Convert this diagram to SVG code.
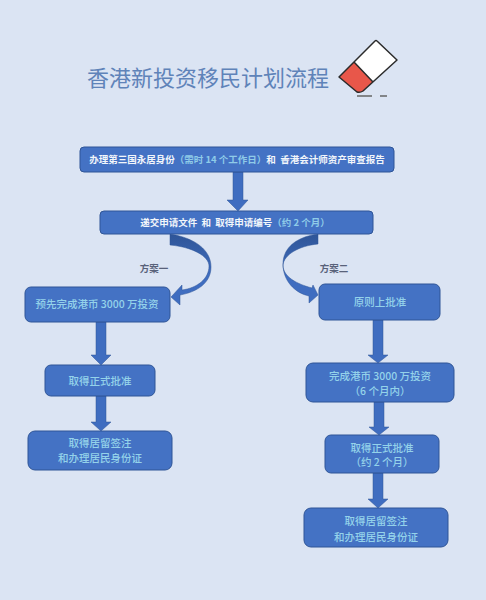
<svg xmlns="http://www.w3.org/2000/svg" width="486" height="600" viewBox="0 0 486 600">
<defs><style>
text{font-family:"Noto Sans CJK SC","Liberation Sans",sans-serif;text-anchor:middle}
.box{fill:#4472c4;stroke:#2f5597;stroke-width:1}
.w{fill:#f2f6fb;font-weight:700;font-size:9.500px}
.wc{fill:#8fcbe8}
.c{fill:#94d2ea;font-weight:500;font-size:10.500px}
.a{fill:#3f6dc0;stroke:#2f5597;stroke-width:.5}
.cv{fill:url(#cv);stroke:#2f5597;stroke-width:.5}
.l{fill:#59627a;font-size:9.500px;font-weight:700}
</style>
<linearGradient id="cv" gradientUnits="userSpaceOnUse" x1="0" y1="234" x2="0" y2="275"><stop offset="0" stop-color="#2f5597"/><stop offset="1" stop-color="#3f6dc0"/></linearGradient>
</defs>
<rect width="486" height="600" fill="#dbe4f3"/>
<g id="title"><text x="208" y="86" font-size="22" fill="#5f83b9">香港新投资移民计划流程</text></g>
<g id="eraser">
<path d="M339 77 L376 40 L397 60 L362 92 Q360 93 358 92Z" fill="#fff"/>
<path d="M339 77 L354 62 L373 82 L363 91 Q360 93 357 92Z" fill="#e8574a"/>
<path d="M339 77 L375 41 Q376 40 377 41 L397 60 L363 91 Q360 93 357 92Z M354 62 L373 82" fill="none" stroke="#2b2b2b" stroke-width="1.500" stroke-linejoin="round"/>
<path d="M357 96H372M380 96H387" stroke="#666" stroke-width="1.500" fill="none"/>
</g>
<g id="connectors">
<path class="a" d="M233 172H243V200H248L238 211L227 200H233Z"/>
<path class="a" d="M96 322H106V355H111L101 365L91 355H96Z"/>
<path class="a" d="M96 396H106V422H111L101 431L91 422H96Z"/>
<path class="a" d="M373 320H383V355H388L378 363L368 355H373Z"/>
<path class="a" d="M374 402H384V427H389L379 435L369 427H374Z"/>
<path class="a" d="M373 473H383V499H388L378 508L368 499H373Z"/>
<path class="cv" d="M170 234C195 238 211 250 211 267C211 283 197 292 180 295V305L171 297L182 285V290C197 288 209 279 209 266C209 256 192 247 170 245Z"/>
<path class="cv" d="M318 234C296 237 283 248 283 264C283 281 295 293 309 296V303L318 295L313 285L312 288C297 284 283 277 283 265C284 255 298 246 318 244Z"/>
</g>
<g id="n1"><rect class="box" x="80" y="147" width="314" height="25" rx="4"/><text class="w" x="237" y="163" xml:space="preserve">办理第三国永居身份<tspan class="wc">（需时 14 个工作日）</tspan>和  香港会计师资产审查报告</text></g>
<g id="n2"><rect class="box" x="100" y="211" width="273" height="23" rx="4"/><text class="w" x="235" y="226" xml:space="preserve">递交申请文件  和  取得申请编号<tspan class="wc">（约 2 个月）</tspan></text></g>
<g id="l1"><text class="l" x="154" y="272">方案一</text></g>
<g id="l2"><text class="l" x="334" y="272">方案二</text></g>
<g id="a1"><rect class="box" x="25" y="287" width="145" height="35" rx="6"/><text class="c" x="97" y="308">预先完成港币 3000 万投资</text></g>
<g id="a2"><rect class="box" x="45" y="365" width="110" height="31" rx="6"/><text class="c" x="100" y="385">取得正式批准</text></g>
<g id="a3"><rect class="box" x="28" y="431" width="144" height="39" rx="7"/><text class="c" x="100" y="447">取得居留签注</text><text class="c" x="100" y="462">和办理居民身份证</text></g>
<g id="b1"><rect class="box" x="319" y="284" width="121" height="36" rx="6"/><text class="c" x="380" y="306">原则上批准</text></g>
<g id="b2"><rect class="box" x="306" y="363" width="148" height="39" rx="7"/><text class="c" x="380" y="380">完成港币 3000 万投资</text><text class="c" x="380" y="395">（6 个月内）</text></g>
<g id="b3"><rect class="box" x="325" y="435" width="114" height="38" rx="6"/><text class="c" x="382" y="452">取得正式批准</text><text class="c" x="382" y="466">（约 2 个月）</text></g>
<g id="b4"><rect class="box" x="304" y="508" width="144" height="39" rx="7"/><text class="c" x="376" y="525">取得居留签注</text><text class="c" x="376" y="541">和办理居民身份证</text></g>
</svg>
